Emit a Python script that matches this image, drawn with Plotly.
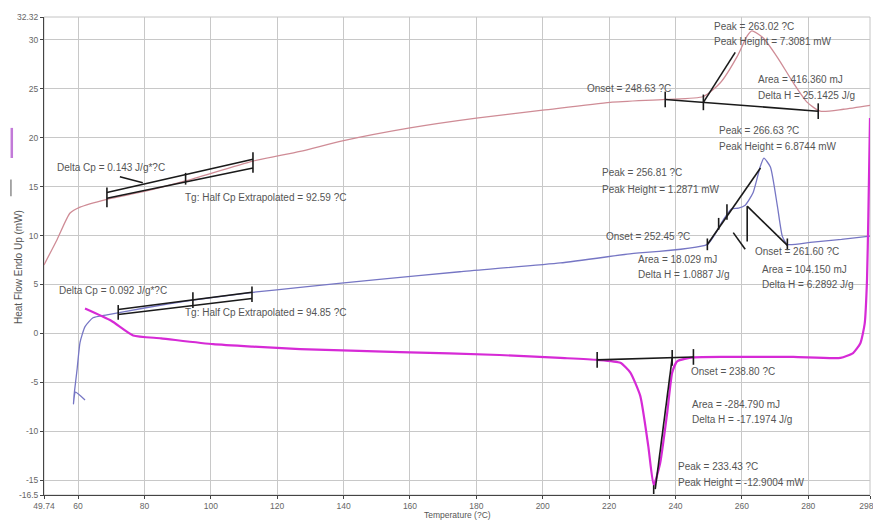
import plotly.graph_objects as go

# ---- DSC traces: temperature (?C) vs heat flow (mW) ----
red_T = [49.74, 53.7, 57.6, 60.6, 68.7, 80.0, 92.6, 112.7, 126.9, 140.0, 160.0, 180.0, 200.0,
         220.3, 236.9, 248.4, 253.5, 258.6, 261.6, 263.02, 266.4, 270.7, 275.5, 279.7, 283.6,
         290.6, 298.6]
red_Y = [7.0, 9.6, 12.3, 12.9, 13.7, 14.5, 15.6, 17.6, 18.6, 19.7, 21.0, 22.0, 22.8,
         23.6, 23.9, 24.2, 25.6, 28.3, 30.4, 30.9, 30.2, 28.2, 25.6, 23.6, 22.7,
         22.9, 23.3]

blue_T = [62.1, 59.2, 58.6, 58.9, 59.7, 60.6, 62.1, 64.5, 68.7, 80.0, 94.6, 112.7, 126.9,
          150.0, 175.0, 205.3, 225.5, 249.6, 254.4, 256.81, 259.0, 261.0, 263.4, 265.5,
          266.63, 268.6, 270.7, 272.2, 273.7, 280.6, 290.0, 298.6]
blue_Y = [-6.8, -6.0, -7.2, -6.0, -3.7, -0.9, 0.7, 1.6, 1.9, 2.6, 3.4, 4.2, 4.7,
          5.5, 6.3, 7.2, 8.1, 9.1, 11.6, 12.7, 12.8, 13.1, 14.4, 17.0,
          17.9, 17.0, 13.0, 9.9, 9.1, 9.3, 9.6, 9.95]

mag_T = [62.1, 70.0, 76.6, 85.0, 100.7, 112.7, 126.9, 157.0, 187.0, 205.3, 216.4, 223.4,
         226.4, 229.4, 231.8, 233.43, 235.4, 237.5, 239.0, 240.5, 245.4, 255.6, 275.5,
         289.7, 293.5, 295.7, 297.0, 297.7, 298.1, 298.6]
mag_Y = [2.55, 1.3, -0.2, -0.5, -1.1, -1.35, -1.6, -1.9, -2.2, -2.5, -2.7, -3.0,
         -4.0, -6.4, -11.5, -15.5, -13.2, -8.1, -4.0, -2.85, -2.45, -2.4, -2.4,
         -2.5, -2.0, -1.0, 1.0, 5.5, 12.0, 22.0]

# ---- analysis constructs (tangents, baselines, limit ticks): (T0, Y0, T1, Y1) ----
red_tg_lines = [(68.7, 14.4, 112.7, 17.8), (68.7, 13.8, 112.7, 16.9),
                (68.7, 12.9, 68.7, 14.9), (112.7, 16.4, 112.7, 18.5),
                (92.4, 15.2, 92.4, 16.4), (72.6, 16.0, 79.5, 15.4)]
blue_tg_lines = [(72.1, 2.45, 112.4, 4.2), (72.1, 1.94, 112.4, 3.57),
                 (72.1, 1.4, 72.1, 2.9), (112.4, 3.2, 112.4, 4.8),
                 (94.6, 2.6, 94.6, 4.2)]
red_peak_lines = [(236.9, 23.9, 283.0, 22.7), (236.9, 23.1, 236.9, 24.7),
                  (283.0, 21.9, 283.0, 23.5), (248.4, 22.8, 248.4, 24.4),
                  (248.4, 23.6, 258.0, 28.7)]
blue_peak_lines = [(249.6, 9.08, 265.6, 16.9), (261.6, 13.0, 273.7, 9.0),
                   (261.6, 13.0, 261.6, 9.4), (257.4, 10.3, 261.0, 8.6),
                   (249.6, 8.5, 249.6, 9.7), (273.7, 8.5, 273.7, 9.7),
                   (255.5, 11.6, 255.5, 13.2), (253.0, 10.6, 253.0, 11.8)]
mag_peak_lines = [(216.4, -2.7, 245.4, -2.4), (216.4, -3.5, 216.4, -1.9),
                  (239.0, -3.3, 239.0, -1.7), (245.4, -3.2, 245.4, -1.6),
                  (239.0, -2.5, 233.9, -15.9), (233.43, -15.5, 233.43, -16.4)]

# ---- axis ticks ----
x_lo, x_hi = 49.74, 298.6
y_lo, y_hi = -16.5, 32.32
x_ticks = [x_lo, 60, 80, 100, 120, 140, 160, 180, 200, 220, 240, 260, 280, x_hi]
x_text = ["49.74", "60", "80", "100", "120", "140", "160", "180", "200", "220",
          "240", "260", "280", "298.6"]
y_ticks = [y_lo, -15, -10, -5, 0, 5, 10, 15, 20, 25, 30, y_hi]
y_text = ["-16.5", "-15", "-10", "-5", "0", "5", "10", "15", "20", "25", "30", "32.32"]

# ---- result labels: (text, T, Y) ----
labels = [
    ("Peak = 263.02 ?C", 251.0, 31.4),
    ("Peak Height = 7.3081 mW", 251.0, 29.8),
    ("Onset = 248.63 ?C", 212.7, 25.0),
    ("Area = 416.360 mJ", 264.3, 25.9),
    ("Delta H = 25.1425 J/g", 264.3, 24.35),
    ("Peak = 266.63 ?C", 252.5, 20.7),
    ("Peak Height = 6.8744 mW", 252.5, 19.1),
    ("Peak = 256.81 ?C", 217.3, 16.4),
    ("Peak Height = 1.2871 mW", 217.3, 14.75),
    ("Onset = 252.45 ?C", 218.5, 9.95),
    ("Onset = 261.60 ?C", 263.4, 8.4),
    ("Area = 18.029 mJ", 228.1, 7.6),
    ("Delta H = 1.0887 J/g", 228.1, 5.97),
    ("Area = 104.150 mJ", 265.5, 6.5),
    ("Delta H = 6.2892 J/g", 265.5, 4.95),
    ("Onset = 238.80 ?C", 244.1, -3.9),
    ("Area = -284.790 mJ", 244.4, -7.3),
    ("Delta H = -17.1974 J/g", 244.4, -8.75),
    ("Peak = 233.43 ?C", 240.2, -13.6),
    ("Peak Height = -12.9004 mW", 240.2, -15.2),
    ("Delta Cp = 0.143 J/g*?C", 53.1, 16.9),
    ("Tg: Half Cp Extrapolated = 92.59 ?C", 91.6, 13.9),
    ("Delta Cp = 0.092 J/g*?C", 53.7, 4.4),
    ("Tg: Half Cp Extrapolated = 94.85 ?C", 91.6, 2.1),
]

FONT = "Liberation Sans, Arial, sans-serif"
RED = "#cf8c96"
BLUE = "#7676c4"
MAGENTA = "#d62ad6"

fig = go.Figure()

fig.add_trace(go.Scatter(x=red_T, y=red_Y, mode="lines",
                         line=dict(color=RED, width=1.3, shape="spline", smoothing=0.6)))
fig.add_trace(go.Scatter(x=blue_T, y=blue_Y, mode="lines",
                         line=dict(color=BLUE, width=1.3, shape="spline", smoothing=0.5)))
fig.add_trace(go.Scatter(x=mag_T, y=mag_Y, mode="lines",
                         line=dict(color=MAGENTA, width=2.2, shape="spline", smoothing=0.5)))

# black construction lines drawn as gapped segments in one trace per group
for group in (red_tg_lines, blue_tg_lines, red_peak_lines, blue_peak_lines, mag_peak_lines):
    xs, ys = [], []
    for t0, v0, t1, v1 in group:
        xs += [t0, t1, None]
        ys += [v0, v1, None]
    fig.add_trace(go.Scatter(x=xs, y=ys, mode="lines",
                             line=dict(color="#1a1a1a", width=1.6)))

for text, t, v in labels:
    fig.add_annotation(x=t, y=v, text=text, showarrow=False, xanchor="left",
                       yanchor="middle", font=dict(family=FONT, size=10, color="#555555"))

# y axis title with the trace key next to it
fig.add_annotation(xref="paper", yref="paper", x=-0.040, y=0.478,
                   text="Heat Flow Endo Up (mW)", textangle=-90, showarrow=False,
                   font=dict(family=FONT, size=10, color="#555555"))
fig.add_shape(type="line", xref="paper", yref="paper", x0=-0.040, x1=-0.040,
              y0=0.625, y1=0.66, line=dict(color="#555555", width=1))
fig.add_shape(type="line", xref="paper", yref="paper", x0=-0.039, x1=-0.039,
              y0=0.705, y1=0.768, line=dict(color="#c27ad8", width=2.5))

# x axis title
fig.add_annotation(xref="paper", yref="paper", x=0.501, y=-0.057,
                   text="Temperature (?C)", showarrow=False,
                   font=dict(family=FONT, size=8.5, color="#555555"))

# frame around the plot area
fig.add_shape(type="rect", xref="paper", yref="paper", x0=0, x1=1, y0=0, y1=1,
              line=dict(color="#c4c4c4", width=1), layer="below")

fig.update_layout(
    width=873, height=526,
    margin=dict(l=44, r=3, t=17, b=31),
    plot_bgcolor="white", paper_bgcolor="white",
    showlegend=False,
    font=dict(family=FONT, size=9, color="#666666"),
    xaxis=dict(range=[x_lo, x_hi], tickvals=x_ticks, ticktext=x_text,
               showgrid=True, gridcolor="#c8c8c8", gridwidth=1,
               showline=True, linecolor="#444444", linewidth=1,
               ticks="outside", ticklen=3, tickcolor="#444444",
               ticklabeloverflow="allow", automargin=False,
               tickfont=dict(size=8.5, color="#666666"), zeroline=False),
    yaxis=dict(range=[y_lo, y_hi], tickvals=y_ticks, ticktext=y_text,
               showgrid=True, gridcolor="#c8c8c8", gridwidth=1,
               showline=True, linecolor="#444444", linewidth=1,
               ticks="outside", ticklen=3, tickcolor="#444444",
               automargin=False,
               tickfont=dict(size=8.5, color="#666666"), zeroline=False),
)

fig.write_html("out.html")
